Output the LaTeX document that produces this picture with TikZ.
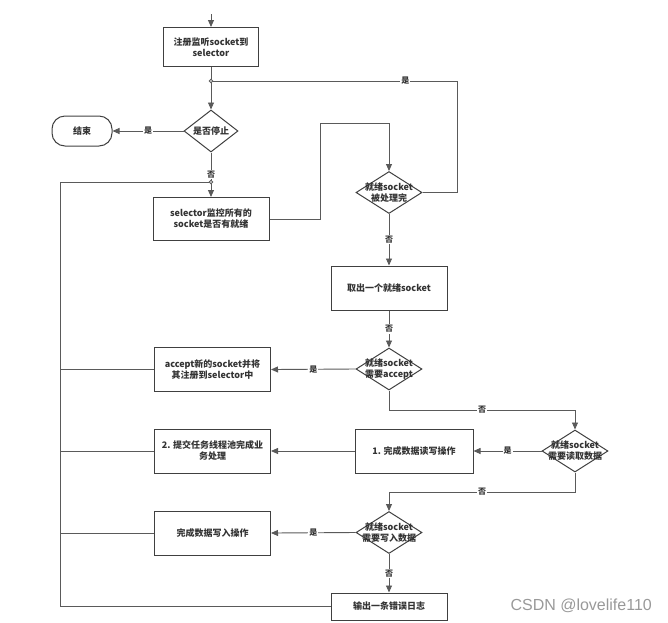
\documentclass[tikz,border=0pt]{standalone}
\usepackage{fontspec}
\setmainfont{Noto Sans CJK SC}
\newfontfamily\wmfont{Liberation Sans}
\usetikzlibrary{arrows.meta,shapes.geometric}
\definecolor{linegray}{HTML}{5A5A5A}
\definecolor{boxgray}{HTML}{404040}
\definecolor{txtgray}{HTML}{333333}

\begin{document}
\begin{tikzpicture}[x=1pt, y=-1pt,
        font=\fontsize{9}{11}\selectfont\bfseries,
        box/.style={draw=boxgray, line width=1pt, rectangle, minimum width=116pt,
            minimum height=44pt, align=center, text=txtgray, inner sep=2pt},
        dec/.style={draw=boxgray, line width=1pt, diamond, minimum width=66pt,
            minimum height=42pt, inner sep=0pt},
        dectext/.style={align=center, text=txtgray, inner sep=0pt},
        arr/.style={draw=linegray, line width=0.9pt, -{Triangle[length=7pt,width=6pt]}},
        conn/.style={draw=linegray, line width=0.9pt},
        lbl/.style={fill=white, inner sep=1pt, text=txtgray, font=\fontsize{8}{10}\selectfont\bfseries}]
        \useasboundingbox (0,0) rectangle (668,622);

        % nodes
        \coordinate (start) at (211,14);
        \node[box, minimum width=95pt, minimum height=39pt] (reg) at (211,47) {注册监听socket到\\selector};
        \coordinate (j1) at (211,81);
        \node[dec, minimum width=54pt, label={[dectext]center:是否停止}] (stop) at (211,131) {};
        \node[draw=boxgray, line width=1pt, rounded corners=13pt, minimum width=60pt,
            minimum height=30pt, text=txtgray] (end) at (82,131) {结束};
        \coordinate (j2) at (211,182);
        \node[box, minimum height=43pt] (mon) at (211,219) {selector监控所有的\\socket是否有就绪};
        \node[dec, label={[dectext]center:就绪socket\\被处理完}] (done) at (389,192.5) {};
        \node[box] (take) at (389,288) {取出一个就绪socket};
        \node[dec, label={[dectext]center:就绪socket\\需要accept}] (acc) at (389,369) {};
        \node[box] (accbox) at (212.5,369.5) {accept新的socket并将\\其注册到selector中};
        \node[dec, label={[dectext]center:就绪socket\\需要读取数据}] (rd) at (575,451) {};
        \node[box, minimum width=118pt] (rwbox) at (414,451) {1. 完成数据读写操作};
        \node[box] (biz) at (212.5,451) {2. 提交任务线程池完成业\\务处理};
        \node[dec, label={[dectext]center:就绪socket\\需要写入数据}] (wr) at (389,532.5) {};
        \node[box] (wrbox) at (212.5,533) {完成数据写入操作};
        \node[box, minimum height=27pt] (log) at (389,606.5) {输出一条错误日志};

        \coordinate (m1) at (320,123.5);
        \coordinate (r1) at (457,81);
        \coordinate (a1) at (389,410);
        \coordinate (b1) at (575,492);
        \coordinate (l1) at (60,182);

        % connectors
        \draw[arr] (start) -- (reg.north);
        \draw[conn] (reg.south) -- (j1);
        \draw[arr] (j1) -- (stop.north);
        \draw[arr] (stop.west) -- node[lbl]{是} (end.east);
        \draw[conn] (stop.south) -- node[lbl, pos=0.75]{否} (j2);
        \draw[arr] (j2) -- (mon.north);
        \draw[arr] (mon.east) -| (m1) -| (done.north);
        \draw[conn] (done.east) -| (r1) -- node[lbl, pos=0.21]{是} (j1);
        \draw[arr] (done.south) -- node[lbl]{否} (take.north);
        \draw[arr] (take.south) -- node[lbl]{否} (acc.north);
        \draw[arr] (acc.west) -- node[lbl]{是} (accbox.east);
        \draw[arr] (acc.south) -- (a1) -| node[lbl, pos=0.25]{否} (rd.north);
        \draw[arr] (rd.west) -- node[lbl]{是} (rwbox.east);
        \draw[arr] (rwbox.west) -- (biz.east);
        \draw[arr] (rd.south) |- (b1) -| node[lbl, pos=0.25]{否} (wr.north);
        \draw[arr] (wr.west) -- node[lbl]{是} (wrbox.east);
        \draw[arr] (wr.south) -- node[lbl]{否} (log.north);

        % back to the loop
        \draw[conn] (accbox.west) -| (l1) -- (j2);
        \draw[conn] (biz.west) -| (l1) -- (j2);
        \draw[conn] (wrbox.west) -| (l1) -- (j2);
        \draw[conn] (log.west) -| (l1) -- (j2);

        \draw[linegray, line width=0.8pt, fill=white] (j1) circle (1.8pt);
        \draw[linegray, line width=0.8pt, fill=white] (j2) circle (1.8pt);

        \node[text=gray!80, font=\wmfont\fontsize{16}{18}\selectfont, anchor=west] (wm) at (507,606) {CSDN @lovelife110};
\end{tikzpicture}
\end{document}
